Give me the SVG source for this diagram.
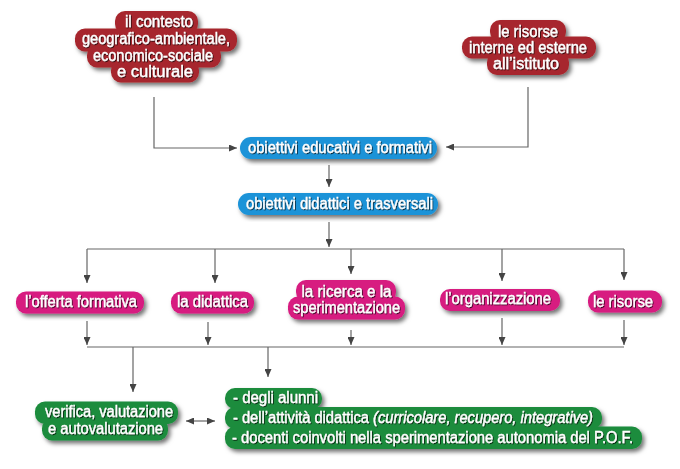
<svg xmlns="http://www.w3.org/2000/svg" width="680" height="469" viewBox="0 0 680 469">
<defs>
<filter id="boxsh" x="-10%" y="-20%" width="125%" height="150%">
<feDropShadow dx="2.5" dy="3" stdDeviation="2" flood-color="#000" flood-opacity="0.55"/>
</filter>
<filter id="txtsh" x="-5%" y="-20%" width="110%" height="150%">
<feDropShadow dx="0.8" dy="0.9" stdDeviation="0.5" flood-color="#000" flood-opacity="0.8"/>
</filter>
<marker id="arr" markerWidth="8" markerHeight="7" refX="8" refY="3.5" orient="auto-start-reverse" markerUnits="userSpaceOnUse">
<path d="M0,0 L8,3.5 L0,7 z" fill="#444"/>
</marker>
</defs>
<style>
.red rect{fill:#a7282d}
.blue rect{fill:#1a93d8}
.pink rect{fill:#d71a80}
.green rect{fill:#1b8c3c}
.sh{filter:url(#boxsh)}
.t{font-family:"Liberation Sans",Arial,sans-serif;font-size:16px;fill:#fff;stroke:#fff;stroke-width:0.35;text-anchor:middle;filter:url(#txtsh)}
.l{text-anchor:start}
.c path{fill:none;stroke:#666;stroke-width:1.2}
.c .a{marker-end:url(#arr)}
</style>
<rect width="680" height="469" fill="#fff"/>

<g id="connectors" class="c">
<path class="a" d="M154 97 V148 H237"/>
<path class="a" d="M528 87 V147 H446"/>
<path class="a" d="M329 165 V187"/>
<path class="a" d="M329 222 V247"/>
<path d="M87 249 H624"/>
<path class="a" d="M87 249 V283"/>
<path class="a" d="M215 249 V283"/>
<path class="a" d="M351 249 V274"/>
<path class="a" d="M502 249 V281"/>
<path class="a" d="M624 249 V280"/>
<path class="a" d="M87 321 V345"/>
<path class="a" d="M208 322 V345"/>
<path class="a" d="M351 330 V345"/>
<path class="a" d="M502 318 V345"/>
<path class="a" d="M624 320 V345"/>
<path d="M87 347 H624"/>
<path class="a" d="M133 347 V392"/>
<path class="a" d="M268 347 V377"/>
<path d="M186 421 H215" marker-start="url(#arr)" marker-end="url(#arr)"/>
</g>

<g id="contesto" class="red">
<g class="sh">
<rect x="115" y="11" width="83" height="23" rx="10"/>
<rect x="75" y="28.5" width="162" height="23" rx="10"/>
<rect x="87" y="45.5" width="134" height="22" rx="10"/>
<rect x="111" y="60.5" width="88" height="22" rx="10"/>
</g>
<text class="t" x="159" y="27" textLength="68" lengthAdjust="spacingAndGlyphs">il contesto</text>
<text class="t" x="156" y="44" textLength="148" lengthAdjust="spacingAndGlyphs">geografico-ambientale,</text>
<text class="t" x="153" y="61" textLength="120" lengthAdjust="spacingAndGlyphs">economico-sociale</text>
<text class="t" x="155" y="77" textLength="76" lengthAdjust="spacingAndGlyphs">e culturale</text>
</g>

<g id="risorse-istituto" class="red">
<g class="sh">
<rect x="490" y="20" width="76" height="22" rx="10"/>
<rect x="462" y="36.5" width="134" height="22" rx="10"/>
<rect x="487" y="52.5" width="82" height="22.5" rx="10"/>
</g>
<text class="t" x="528" y="36.5" textLength="60" lengthAdjust="spacingAndGlyphs">le risorse</text>
<text class="t" x="528" y="52.5" textLength="118" lengthAdjust="spacingAndGlyphs">interne ed esterne</text>
<text class="t" x="526" y="68.5" textLength="66" lengthAdjust="spacingAndGlyphs">all’istituto</text>
</g>

<g id="obiettivi-educativi" class="blue">
<rect class="sh" x="240" y="137" width="197" height="22" rx="11"/>
<text class="t" x="340" y="153" textLength="184" lengthAdjust="spacingAndGlyphs">obiettivi educativi e formativi</text>
</g>

<g id="obiettivi-didattici" class="blue">
<rect class="sh" x="238" y="193" width="200" height="22" rx="11"/>
<text class="t" x="339.5" y="209" textLength="187" lengthAdjust="spacingAndGlyphs">obiettivi didattici e trasversali</text>
</g>

<g id="offerta" class="pink">
<rect class="sh" x="16" y="291.5" width="128" height="22" rx="10"/>
<text class="t" x="81" y="307" textLength="112" lengthAdjust="spacingAndGlyphs">l’offerta formativa</text>
</g>

<g id="didattica" class="pink">
<rect class="sh" x="171" y="291.5" width="83" height="22" rx="10"/>
<text class="t" x="212.5" y="307" textLength="71" lengthAdjust="spacingAndGlyphs">la didattica</text>
</g>

<g id="ricerca" class="pink">
<g class="sh">
<rect x="296" y="280" width="100" height="22" rx="10"/>
<rect x="288" y="296.5" width="117" height="23" rx="10"/>
</g>
<text class="t" x="346.5" y="296.5" textLength="90" lengthAdjust="spacingAndGlyphs">la ricerca e la</text>
<text class="t" x="346.5" y="312.5" textLength="107" lengthAdjust="spacingAndGlyphs">sperimentazione</text>
</g>

<g id="organizzazione" class="pink">
<rect class="sh" x="440" y="289" width="120" height="22" rx="10"/>
<text class="t" x="498" y="304" textLength="106" lengthAdjust="spacingAndGlyphs">l’organizzazione</text>
</g>

<g id="risorse" class="pink">
<rect class="sh" x="588" y="290.5" width="74" height="22" rx="10"/>
<text class="t" x="623" y="307" textLength="60" lengthAdjust="spacingAndGlyphs">le risorse</text>
</g>

<g id="verifica" class="green">
<g class="sh">
<rect x="35" y="401.5" width="143" height="22.5" rx="10"/>
<rect x="42" y="418.5" width="126" height="22" rx="10"/>
</g>
<text class="t" x="109" y="417" textLength="128" lengthAdjust="spacingAndGlyphs">verifica, valutazione</text>
<text class="t" x="105.5" y="434" textLength="115" lengthAdjust="spacingAndGlyphs">e autovalutazione</text>
</g>

<g id="ambiti" class="green">
<g class="sh">
<rect x="225" y="388" width="97" height="21" rx="10"/>
<rect x="225" y="407" width="377" height="22" rx="10"/>
<rect x="225" y="426.5" width="417" height="22.5" rx="10"/>
</g>
<text class="t l" x="233" y="403" textLength="85" lengthAdjust="spacingAndGlyphs">- degli alunni</text>
<text class="t l" x="233" y="423" textLength="360" lengthAdjust="spacingAndGlyphs">- dell’attività didattica <tspan font-style="italic">(curricolare, recupero, integrative)</tspan></text>
<text class="t l" x="232" y="442.5" textLength="401" lengthAdjust="spacingAndGlyphs">- docenti coinvolti nella sperimentazione autonomia del P.O.F.</text>
</g>
</svg>
